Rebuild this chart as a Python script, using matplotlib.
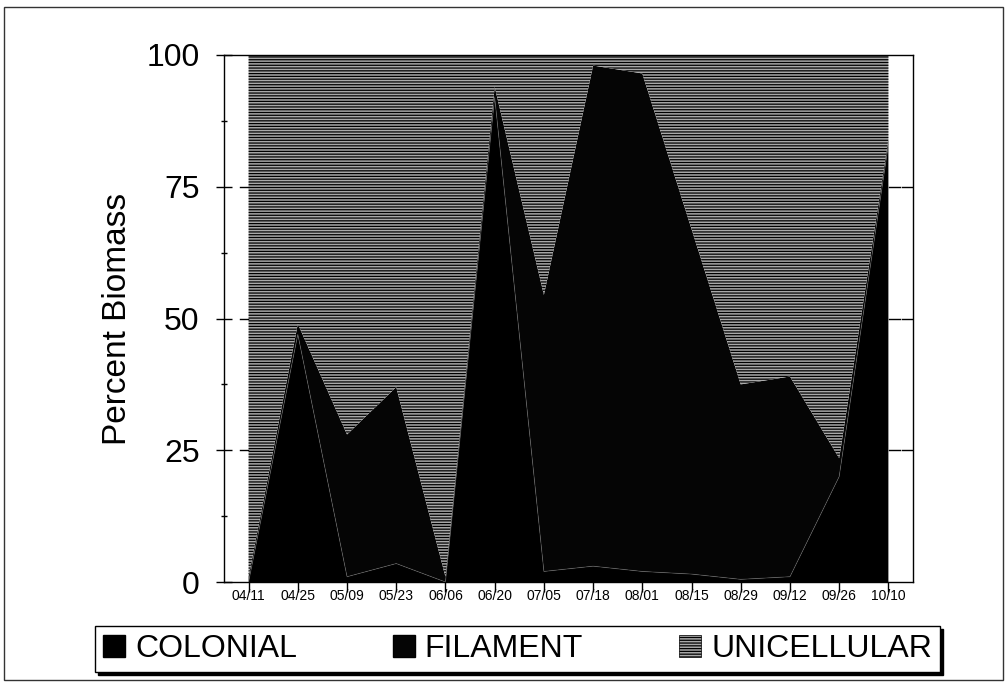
import matplotlib
matplotlib.use("Agg")

import matplotlib.pyplot as plt
import numpy as np
from matplotlib.patches import Patch, Rectangle


DATES = ["04/11", "04/25", "05/09", "05/23", "06/06", "06/20", "07/05",
         "07/18", "08/01", "08/15", "08/29", "09/12", "09/26", "10/10"]

# percent of total biomass per sampling date
COLONIAL = [0, 47, 1, 3.5, 0, 92, 2, 3, 2, 1.5, 0.5, 1, 20, 83]
FILAMENT = [1, 2, 27, 33.5, 1, 2, 52.5, 95, 94.5, 65.5, 37, 38, 3.5, 1]
UNICELLULAR = [99, 51, 72, 63, 99, 6, 45.5, 2, 3.5, 33, 62.5, 61, 76.5, 16]

SERIES = ["COLONIAL", "FILAMENT", "UNICELLULAR"]
Y_TICKS = [0, 25, 50, 75, 100]
UNI_FACE = "#a8a8a8"

plt.rcParams["font.family"] = ["Liberation Sans", "DejaVu Sans"]
plt.rcParams["hatch.linewidth"] = 0.9
plt.rcParams["hatch.color"] = "black"

W, H = 1007, 684
fig = plt.figure(figsize=(W / 100, H / 100), dpi=100)
ax = fig.add_axes([224 / W, 1 - 582 / H, (913 - 224) / W, (582 - 55) / H])

x = np.arange(len(DATES))
layers = ax.stackplot(x, COLONIAL, FILAMENT, UNICELLULAR,
                      colors=["black", "#050505", UNI_FACE], linewidth=0)
layers[2].set_hatch("------")
layers[2].set_edgecolor("black")
layers[2].set_linewidth(0)

# faint seam between the two black layers
ax.plot(x, COLONIAL, color="#9a9a9a", lw=0.6, alpha=0.35)

ax.set_xlim(-0.5, len(DATES) - 0.5)
ax.set_ylim(0, 100)

ax.set_yticks(Y_TICKS)
ax.set_yticks(np.arange(12.5, 100, 25), minor=True)
ax.tick_params(axis="y", which="major", direction="inout", length=11, width=1,
               labelsize=23, pad=12)
ax.tick_params(axis="y", which="minor", direction="inout", length=5, width=1)
ax.tick_params(axis="y", right=False, which="both")

ax.set_xticks(x)
ax.set_xticklabels(DATES, family=["Liberation Sans Narrow", "Liberation Sans"])
ax.tick_params(axis="x", direction="out", length=7, width=1, pad=-2, labelsize=10)

# dashed tick pieces in the white margins on both sides
last = len(DATES) - 1
for v in Y_TICKS[1:-1]:
    ax.plot([-0.18, -0.01], [v, v], color="black", lw=1, zorder=4)
    ax.plot([last + 0.01, last + 0.24], [v, v], color="black", lw=1, zorder=4)
    ax.plot([last + 0.28, last + 0.5], [v, v], color="black", lw=1, zorder=4)

for s in ax.spines.values():
    s.set_linewidth(1)

ax.set_ylabel("Percent Biomass", fontsize=24)
ax.yaxis.set_label_coords(-0.132, 0.5)

handles = [
    Patch(facecolor="black", edgecolor="black"),
    Patch(facecolor="#050505", edgecolor="black"),
    Patch(facecolor=UNI_FACE, edgecolor="black", hatch="------", lw=0.5),
]
leg = fig.legend(handles, SERIES, loc="center", ncol=3,
                 bbox_to_anchor=(517.5 / W, 1 - 649 / H), fontsize=23,
                 frameon=True, fancybox=False, edgecolor="black",
                 shadow={"color": "black", "alpha": 1, "ox": 2, "oy": -2},
                 borderpad=0.25, handlelength=0.7, handleheight=0.7,
                 handletextpad=0.3, columnspacing=3.0, borderaxespad=0)
leg.get_frame().set_linewidth(1)

fig.add_artist(Rectangle((4 / W, 1 - 680 / H), (1003 - 4) / W, (680 - 7) / H,
                         transform=fig.transFigure, fill=False, lw=1,
                         edgecolor="#333333"))

fig.savefig("out.png", dpi=100)
